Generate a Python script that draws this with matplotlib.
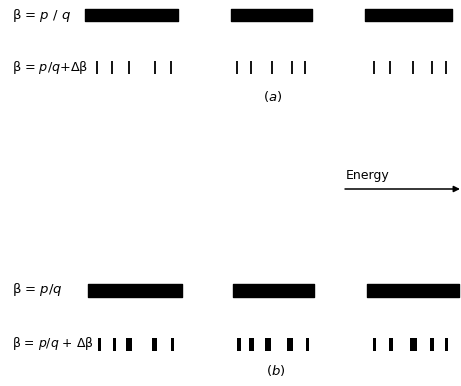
import matplotlib
matplotlib.use("Agg")
import matplotlib.pyplot as plt

plt.rcParams['font.family'] = ['DejaVu Sans']
plt.rcParams['mathtext.fontset'] = 'dejavusans'

# bands for beta = p/q (start, end) on the energy axis
bands_a = [(85, 178), (231, 312), (365, 452)]
bands_b = [(88, 182), (233, 314), (367, 459)]

# discrete levels for beta = p/q + delta beta
levels_a = [97, 112, 129, 155, 171,
            237, 251, 272, 292, 305,
            374, 390, 413, 432, 446]
levels_b = [99, 114, 129, 154, 172,
            239, 251, 268, 290, 307,
            374, 391, 413, 432, 446]
widths_b = [3, 3, 6, 5, 3,
            4, 5, 6, 6, 3,
            3, 4, 7, 4, 3]

label_band = r"β = $p$ / $q$"
label_band_b = r"β = $p$/$q$"
label_level = r"β = $p$/$q$+Δβ"
label_level_b = r"β = $p$/$q$ + Δβ"


def main():
	fig = plt.figure(figsize=(4.61, 3.86), dpi=100)
	ax = fig.add_axes([0, 0, 1, 1])
	ax.set_xlim(0, 461)
	ax.set_ylim(386, 0)
	ax.axis("off")

	# (a)
	ax.broken_barh([(s, e - s) for s, e in bands_a], (8.5, 12.5), color="black")
	ax.vlines(levels_a, 61, 73.5, color="black", lw=1.3)
	ax.text(12, 15, label_band, fontsize=9.5, va="center", ha="left")
	ax.text(12, 68, label_level, fontsize=9.2, va="center", ha="left")
	ax.text(273, 97, "($a$)", fontsize=9.5, va="center", ha="center")

	# energy arrow
	ax.text(346, 175, "Energy", fontsize=9, va="center", ha="left")
	ax.annotate("", xy=(460, 189), xytext=(345, 189),
		arrowprops=dict(arrowstyle="-|>", color="black", lw=1.1,
			mutation_scale=9, shrinkA=0, shrinkB=0))

	# (b)
	ax.broken_barh([(s, e - s) for s, e in bands_b], (283.5, 13), color="black")
	ax.bar(levels_b, 13, width=widths_b, bottom=338, color="black")
	ax.text(12, 290, label_band_b, fontsize=9.5, va="center", ha="left")
	ax.text(12, 344, label_level_b, fontsize=8.9, va="center", ha="left")
	ax.text(276, 371, "($b$)", fontsize=9.5, va="center", ha="center")

	plt.savefig("out.png", dpi=100)


if __name__ == "__main__":
	main()
